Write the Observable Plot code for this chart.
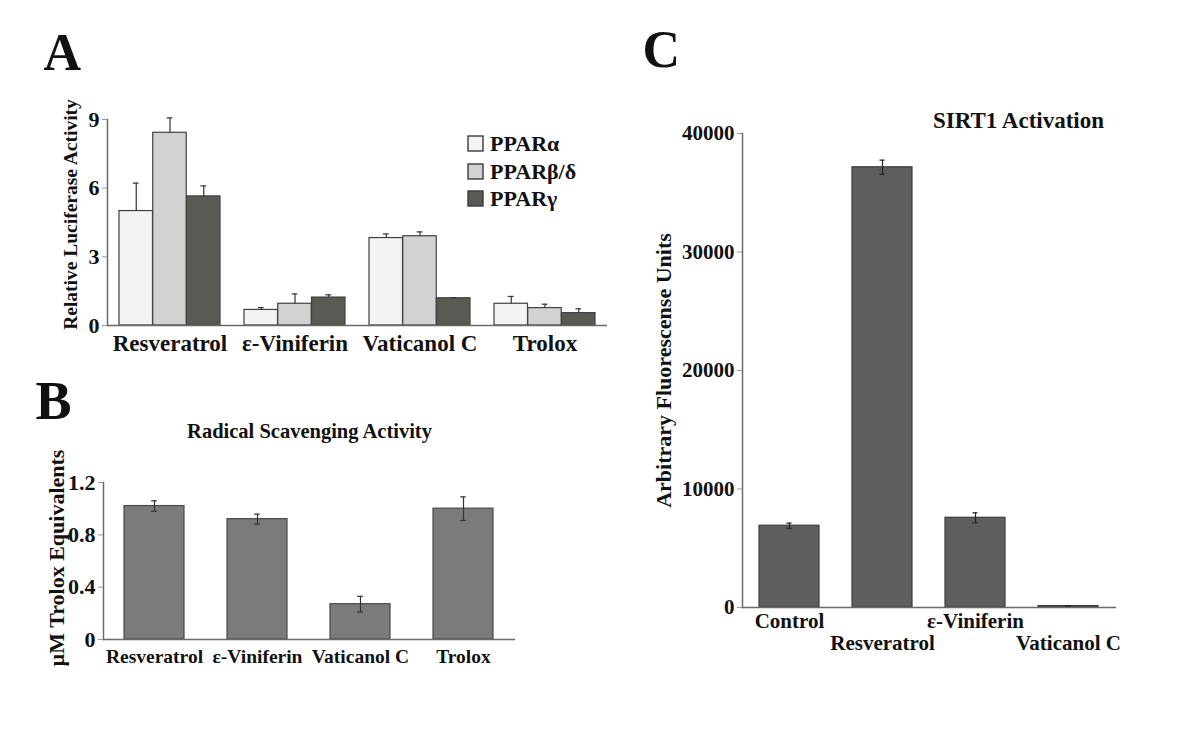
<!DOCTYPE html>
<html><head><meta charset="utf-8">
<script src="https://cdn.jsdelivr.net/npm/d3@7"></script>
<script src="https://cdn.jsdelivr.net/npm/@observablehq/plot@0.6"></script>
<style>
html,body{margin:0;padding:0;background:#fff;}
#fig{position:relative;width:1200px;height:736px;background:#fff;overflow:hidden;}
.panel{position:absolute;}
div[class^="lgA"]{font:bold 22px "Liberation Serif", "Times New Roman", serif !important;color:#111 !important;margin:0 !important;min-height:0 !important;}
div[class^="lgA"] div[class*="swatch"]{line-height:27.5px !important;padding-bottom:0 !important;}
div[class^="lgA"] svg{margin-right:7px !important;}
div[class^="lgA"] svg rect{stroke:#3a3a3a;stroke-width:1.4px;}
</style></head><body><div id="fig"></div>
<script>
// ---------- Panel A data ----------
const categoriesA = ["Resveratrol", "ε-Viniferin", "Vaticanol C", "Trolox"];
const seriesA = ["PPARα", "PPARβ/δ", "PPARγ"];
const pparAlpha = [5.0, 0.68, 3.82, 0.95];
const pparAlphaErr = [1.22, 0.10, 0.18, 0.32];
const pparBeta = [8.42, 0.95, 3.90, 0.76];
const pparBetaErr = [0.65, 0.43, 0.19, 0.17];
const pparGamma = [5.64, 1.22, 1.19, 0.54];
const pparGammaErr = [0.46, 0.12, 0.03, 0.19];
const yTicksA = [0, 3, 6, 9];
const yLabelA = "Relative Luciferase Activity";

// ---------- Panel B data ----------
const categoriesB = ["Resveratrol", "ε-Viniferin", "Vaticanol C", "Trolox"];
const valuesB = [1.02, 0.92, 0.27, 1.00];
const errorsB = [0.04, 0.038, 0.06, 0.09];
const yTicksB = [0, 0.4, 0.8, 1.2];
const titleB = "Radical Scavenging Activity";
const yLabelB = "µM Trolox Equivalents";

// ---------- Panel C data ----------
const categoriesC = ["Control", "Resveratrol", "ε-Viniferin", "Vaticanol C"];
const valuesC = [6900, 37150, 7570, 120];
const errorsC = [220, 600, 420, 30];
const yTicksC = [0, 10000, 20000, 30000, 40000];
const titleC = "SIRT1 Activation";
const yLabelC = "Arbitrary Fluorescense Units";

const SERIF = "'Liberation Serif', 'Times New Roman', serif";
const baseStyle = (size) => ({fontFamily: SERIF, fontWeight: "bold", fontSize: size + "px", color: "#111", background: "transparent", overflow: "visible"});
const fig = document.getElementById("fig");
function place(el, left, top) {
  const d = document.createElement("div");
  d.className = "panel"; d.style.left = left + "px"; d.style.top = top + "px";
  d.appendChild(el); fig.appendChild(d);
}
const AXIS = "#6a6a6a";
const ERR = "#333";

// ================= Panel A =================
const valuesA = [pparAlpha, pparBeta, pparGamma];
const errorsA = [pparAlphaErr, pparBetaErr, pparGammaErr];
const rowsA = categoriesA.flatMap((c, j) => seriesA.map((s, i) => ({cat: c, series: s, value: valuesA[i][j], err: errorsA[i][j]})));
const aL = {width: 620, height: 370, marginLeft: 107, marginRight: 13, marginTop: 119, marginBottom: 45};
const aPadIn = 0.19, aPadOut = 0.095;
const bandA = d3.scaleBand(categoriesA, [aL.marginLeft, aL.width - aL.marginRight]).paddingInner(aPadIn).paddingOuter(aPadOut);
const bwA = bandA.bandwidth();
const sub = bwA / seriesA.length;
const marksA = [];
seriesA.forEach((s, i) => {
  const rows = rowsA.filter(d => d.series === s);
  const dx = (i - (seriesA.length - 1) / 2) * sub;
  marksA.push(Plot.barY(rows, {x: "cat", y: "value", fill: "series", stroke: "#404040", strokeWidth: 1.2,
    insetLeft: i * sub, insetRight: (seriesA.length - 1 - i) * sub}));
  marksA.push(Plot.ruleX(rows, {x: "cat", y1: "value", y2: d => d.value + d.err, dx, stroke: ERR, strokeWidth: 1.2}));
  marksA.push(Plot.tickY(rows, {x: "cat", y: d => d.value + d.err, dx, insetLeft: bwA / 2 - 3, insetRight: bwA / 2 - 3, stroke: ERR, strokeWidth: 1.2}));
});
const plotA = Plot.plot({
  ...aL,
  style: baseStyle(22),
  x: {type: "band", domain: categoriesA, paddingInner: aPadIn, paddingOuter: aPadOut, align: 0.5, label: null},
  y: {domain: [0, 9], label: null},
  color: {domain: seriesA, range: ["#f3f3f3", "#d2d2d2", "#5a5a55"]},
  marks: [
    ...marksA,
    Plot.ruleY([0], {stroke: AXIS, strokeWidth: 1.5}),
    Plot.frame({anchor: "left", stroke: AXIS, strokeWidth: 1.5}),
    Plot.axisY(yTicksA, {tickSize: 5, tickPadding: 3, stroke: "#999", label: null}),
    Plot.axisX({tickSize: 0, tickPadding: 9, label: null, fontSize: 23}),
    Plot.text([yLabelA], {frameAnchor: "left", textAnchor: "middle", rotate: -90, dx: -37, dy: -8, fontSize: 19.5}),
    Plot.text(["A"], {frameAnchor: "top-left", textAnchor: "start", lineAnchor: "top", dx: -64, dy: -86, fontSize: 52})
  ]
});
place(plotA, 0, 0);
const legA = plotA.legend("color", {legend: "swatches", columns: 1, swatchSize: 15, className: "lgA"});
place(legA, 468, 130);

// ================= Panel B =================
const rowsB = categoriesB.map((c, i) => ({cat: c, value: valuesB[i], err: errorsB[i]}));
const bL = {width: 620, height: 330, marginLeft: 103, marginRight: 105, marginTop: 122, marginBottom: 51};
const bPadIn = 0.415, bPadOut = 0.207;
const bwB = d3.scaleBand(categoriesB, [bL.marginLeft, bL.width - bL.marginRight]).paddingInner(bPadIn).paddingOuter(bPadOut).bandwidth();
const plotB = Plot.plot({
  ...bL,
  style: baseStyle(20),
  x: {type: "band", domain: categoriesB, paddingInner: bPadIn, paddingOuter: bPadOut, align: 0.5, label: null},
  y: {domain: [0, 1.2], label: null},
  marks: [
    Plot.barY(rowsB, {x: "cat", y: "value", fill: "#7b7b7b", stroke: "#4a4a4a", strokeWidth: 1.2}),
    Plot.ruleX(rowsB, {x: "cat", y1: d => d.value - d.err, y2: d => d.value + d.err, stroke: ERR, strokeWidth: 1.2}),
    Plot.tickY(rowsB, {x: "cat", y: d => d.value + d.err, insetLeft: bwB / 2 - 3, insetRight: bwB / 2 - 3, stroke: ERR, strokeWidth: 1.2}),
    Plot.tickY(rowsB, {x: "cat", y: d => d.value - d.err, insetLeft: bwB / 2 - 3, insetRight: bwB / 2 - 3, stroke: ERR, strokeWidth: 1.2}),
    Plot.ruleY([0], {stroke: AXIS, strokeWidth: 1.5}),
    Plot.frame({anchor: "left", stroke: AXIS, strokeWidth: 1.5}),
    Plot.axisY(yTicksB, {tickSize: 5, tickPadding: 3, stroke: "#999", label: null, fontSize: 22, tickFormat: d => String(d)}),
    Plot.axisX({tickSize: 0, tickPadding: 10, label: null, fontSize: 19.5}),
    Plot.text([yLabelB], {frameAnchor: "left", textAnchor: "middle", rotate: -90, dx: -47, dy: -3, fontSize: 22}),
    Plot.text([titleB], {frameAnchor: "top", lineAnchor: "top", dy: -59, fontSize: 20.5}),
    Plot.text(["B"], {frameAnchor: "top-left", textAnchor: "start", lineAnchor: "top", dx: -68, dy: -102, fontSize: 54})
  ]
});
place(plotB, 0, 360);

// ================= Panel C =================
const rowsC = categoriesC.map((c, i) => ({cat: c, value: valuesC[i], err: errorsC[i]}));
const cL = {width: 580, height: 700, marginLeft: 122, marginRight: 84, marginTop: 133, marginBottom: 93};
const cPadIn = 0.35, cPadOut = 0.17;
const bwC = d3.scaleBand(categoriesC, [cL.marginLeft, cL.width - cL.marginRight]).paddingInner(cPadIn).paddingOuter(cPadOut).bandwidth();
const plotC = Plot.plot({
  ...cL,
  style: baseStyle(21),
  x: {type: "band", domain: categoriesC, paddingInner: cPadIn, paddingOuter: cPadOut, align: 0.5, label: null},
  y: {domain: [0, 40000], label: null},
  marks: [
    Plot.barY(rowsC, {x: "cat", y: "value", fill: "#5e5e5e", stroke: "#3c3c3c", strokeWidth: 1.2}),
    Plot.ruleX(rowsC, {x: "cat", y1: d => d.value - d.err, y2: d => d.value + d.err, stroke: "#222", strokeWidth: 1.2}),
    Plot.tickY(rowsC, {x: "cat", y: d => d.value + d.err, insetLeft: bwC / 2 - 3, insetRight: bwC / 2 - 3, stroke: "#222", strokeWidth: 1.2}),
    Plot.tickY(rowsC, {x: "cat", y: d => d.value - d.err, insetLeft: bwC / 2 - 3, insetRight: bwC / 2 - 3, stroke: "#222", strokeWidth: 1.2}),
    Plot.ruleY([0], {stroke: AXIS, strokeWidth: 1.5}),
    Plot.frame({anchor: "left", stroke: AXIS, strokeWidth: 1.5}),
    Plot.axisY(yTicksC, {tickSize: 5, tickPadding: 3, stroke: "#999", label: null, tickFormat: d => String(d)}),
    Plot.axisX(categoriesC.filter((_, i) => i % 2 === 0), {tickSize: 0, tickPadding: 6, label: null}),
    Plot.axisX(categoriesC.filter((_, i) => i % 2 === 1), {tickSize: 0, tickPadding: 6, dy: 22, label: null}),
    Plot.text([yLabelC], {frameAnchor: "left", textAnchor: "middle", rotate: -90, dx: -79, fontSize: 22}),
    Plot.text([titleC], {frameAnchor: "top", lineAnchor: "top", dx: 89, dy: -22, fontSize: 23}),
    Plot.text(["C"], {frameAnchor: "top-left", textAnchor: "start", lineAnchor: "top", dx: -100, dy: -103, fontSize: 52})
  ]
});
place(plotC, 620, 0);
</script></body></html>
